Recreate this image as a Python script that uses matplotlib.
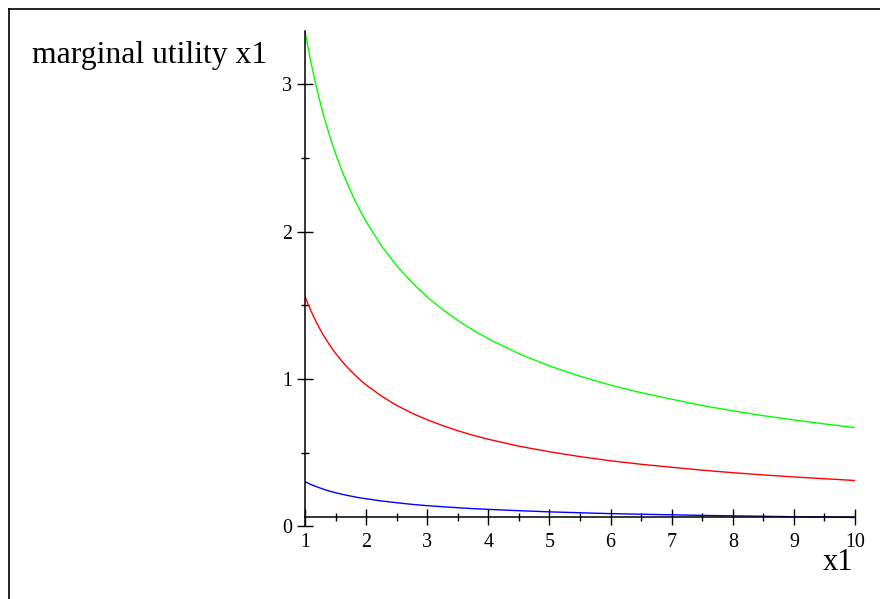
import matplotlib
matplotlib.use("Agg")
import matplotlib.pyplot as plt
from matplotlib.lines import Line2D
from matplotlib.ticker import MultipleLocator

# values
x1 = [1.0, 1.1, 1.2, 1.3, 1.4, 1.5, 1.6, 1.7, 1.8, 1.9, 2.0, 2.25, 2.5, 2.75,
      3.0, 3.25, 3.5, 3.75, 4.0, 4.5, 5.0, 5.5, 6.0, 6.5, 7.0, 7.5, 8.0, 8.5,
      9.0, 9.5, 10.0]
mu_green = [3.360, 3.143, 2.957, 2.796, 2.655, 2.529, 2.418, 2.318, 2.227,
            2.144, 2.068, 1.905, 1.769, 1.655, 1.557, 1.472, 1.398, 1.332,
            1.273, 1.172, 1.089, 1.019, 0.958, 0.907, 0.863, 0.820, 0.784,
            0.751, 0.722, 0.695, 0.670]
mu_red = [1.560, 1.459, 1.373, 1.298, 1.233, 1.174, 1.123, 1.076, 1.034,
          0.995, 0.960, 0.884, 0.821, 0.768, 0.723, 0.684, 0.649, 0.618,
          0.591, 0.544, 0.506, 0.473, 0.445, 0.421, 0.401, 0.381, 0.364,
          0.349, 0.335, 0.323, 0.311]
mu_blue = [0.303, 0.283, 0.267, 0.252, 0.239, 0.228, 0.218, 0.209, 0.201,
           0.193, 0.187, 0.172, 0.160, 0.149, 0.140, 0.133, 0.126, 0.120,
           0.115, 0.106, 0.098, 0.092, 0.086, 0.082, 0.078, 0.074, 0.071,
           0.068, 0.065, 0.063, 0.060]
xticks = [1, 2, 3, 4, 5, 6, 7, 8, 9, 10]
yticks = [0, 1, 2, 3]

serif = "Liberation Serif"
W, H = 880, 599

fig = plt.figure(figsize=(W / 100, H / 100), dpi=100)
ax = fig.add_axes([305 / W, 1 - 526.3 / H, 550 / W, (526.3 - 31.4) / H])

ax.plot(x1, mu_green, color="#00ff00", lw=1.0)
ax.plot(x1, mu_red, color="#ff0000", lw=1.0)
ax.plot(x1, mu_blue, color="#0000ff", lw=1.0)

ax.set_xlim(1, 10)
ax.set_ylim(0, 3.36)
ax.patch.set_visible(False)

for s in ("top", "right"):
    ax.spines[s].set_visible(False)
# the x axis sits at the lowest value of the data, as in the original
ax.spines["bottom"].set_position(("data", min(mu_blue)))
ax.spines["left"].set_linewidth(1.1)
ax.spines["bottom"].set_linewidth(1.1)

ax.set_xticks(xticks)
ax.set_yticks(yticks)
ax.xaxis.set_minor_locator(MultipleLocator(0.5))
ax.yaxis.set_minor_locator(MultipleLocator(0.5))
ax.tick_params(which="major", direction="inout", length=11, width=1.0,
               labelsize=14.4, color="black")
ax.tick_params(which="minor", direction="inout", length=6, width=1.0, color="black")
ax.tick_params(axis="x", which="major", pad=6)
ax.tick_params(axis="y", which="major", pad=4)
for lab in ax.get_xticklabels() + ax.get_yticklabels():
    lab.set_family(serif)

fig.text(32 / W, 1 - 62.7 / H, "marginal utility x1", family=serif,
         fontsize=22.8, va="baseline", ha="left")
fig.text(853 / W, 1 - 570.5 / H, "x1", family=serif,
         fontsize=22, va="baseline", ha="right")

# window border (top and left edges)
fig.add_artist(Line2D([8.5 / W, 1], [1 - 8.5 / H, 1 - 8.5 / H], color="black", lw=1.2))
fig.add_artist(Line2D([8.5 / W, 8.5 / W], [0, 1 - 8.5 / H], color="black", lw=1.2))

fig.savefig("out.png", dpi=100)
